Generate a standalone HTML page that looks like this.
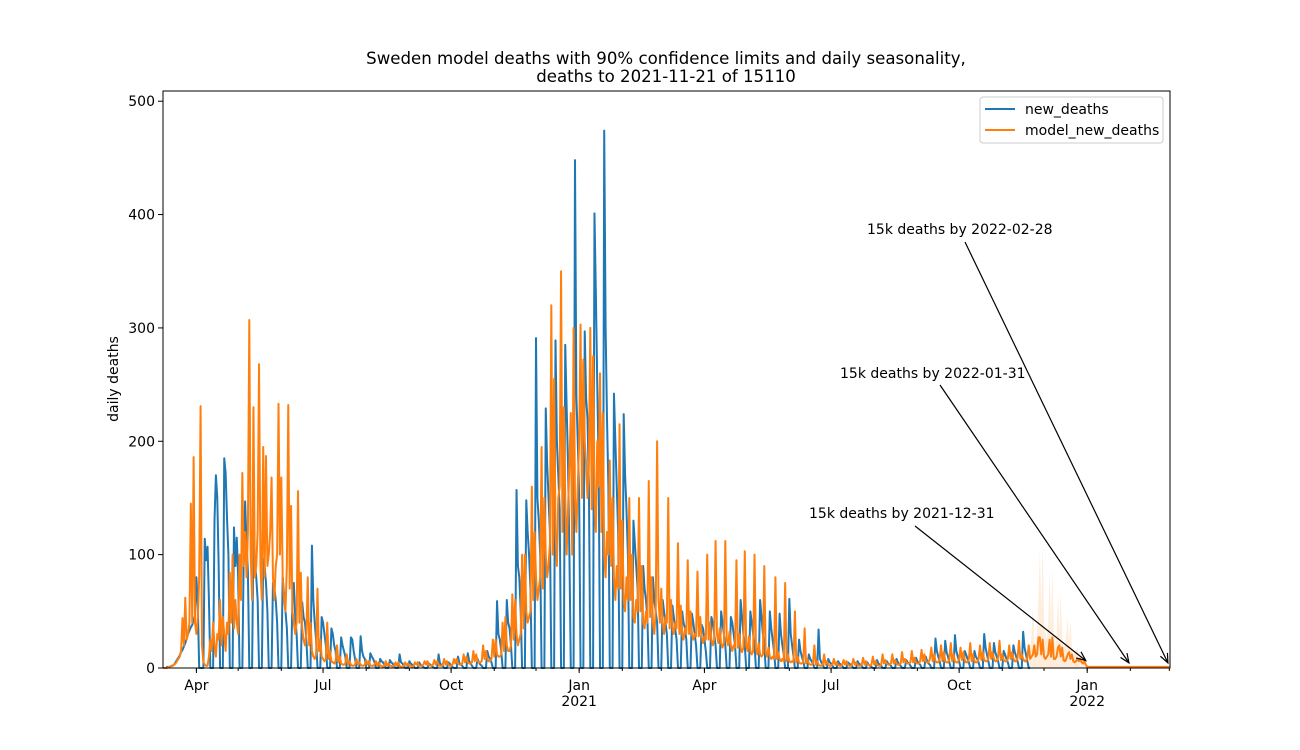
<!DOCTYPE html>
<html><head><meta charset="utf-8"><style>
body{margin:0;background:#fff}
svg{display:block;font-family:"DejaVu Sans","Liberation Sans",sans-serif}
</style></head><body>
<svg id="chart" width="1300" height="750" viewBox="0 0 1300 750">
<rect width="1300" height="750" fill="#fff"/>
<text x="666" y="64" text-anchor="middle" font-size="16.6">Sweden model deaths with 90% confidence limits and daily seasonality,</text>
<text x="666" y="82" text-anchor="middle" font-size="16.6">deaths to 2021-11-21 of 15110</text>
<text transform="translate(118,379) rotate(-90)" text-anchor="middle" font-size="14">daily deaths</text>
<g id="plot"></g>
</svg>
<script>
const yTicks = [0,100,200,300,400,500];
const majorTickDates = ["2020-04-01","2020-07-01","2020-10-01","2021-01-01","2021-04-01","2021-07-01","2021-10-01","2022-01-01"];
const majorTickLabels = ["Apr","Jul","Oct","Jan","Apr","Jul","Oct","Jan"];
const majorTickYears = ["","","","2021","","","","2022"];
const newDeaths = [
/*w0-3*/ 0,0,0,1,1,1,2, 2,3,5,7,9,11,14, 16,19,22,26,30,33,36, 38,42,46,80,55,0,0,
/*w4-7*/ 0,0,114,95,107,60,0, 0,0,130,170,150,90,0, 0,0,185,172,132,100,0, 0,0,124,90,115,80,0,
/*w8-11*/ 0,0,100,147,110,85,0, 0,0,120,95,80,60,0, 0,0,96,90,75,50,0, 0,0,75,70,60,40,0,
/*w12-15*/ 0,0,80,65,50,35,0, 0,0,60,75,45,30,0, 0,0,58,45,40,25,0, 0,0,108,60,40,25,0,
/*w16-19*/ 0,0,45,40,30,20,0, 0,0,35,30,20,15,0, 0,0,27,20,15,10,0, 0,0,27,25,15,8,0,
/*w20-23*/ 0,0,28,15,10,8,0, 0,0,13,10,8,5,0, 0,0,8,6,5,3,0, 0,0,7,5,4,2,0,
/*w24-27*/ 0,0,12,5,4,2,0, 0,0,6,4,3,2,0, 0,0,5,3,2,1,0, 0,0,4,3,2,1,0,
/*w28-31*/ 0,0,12,4,3,2,0, 0,0,5,4,2,1,0, 0,0,10,4,3,2,0, 0,0,13,6,4,2,0,
/*w32-35*/ 0,0,8,5,3,2,0, 0,0,15,10,8,5,0, 0,0,59,30,25,15,0, 0,0,60,40,35,20,0,
/*w36-39*/ 0,0,157,90,80,50,0, 0,0,148,120,100,70,0, 0,0,291,150,130,100,0, 0,0,229,180,150,120,0,
/*w40-43*/ 0,0,289,200,170,140,0, 0,0,285,230,180,100,0, 0,0,448,240,200,150,0, 0,0,297,238,220,160,0,
/*w44-47*/ 0,0,401,330,250,180,0, 0,0,474,300,220,160,0, 0,0,242,200,160,120,0, 0,0,224,170,140,100,0,
/*w48-51*/ 0,0,130,110,90,70,0, 0,0,90,70,60,45,0, 0,0,80,60,50,40,0, 0,0,60,50,40,30,0,
/*w52-55*/ 0,0,55,45,35,25,0, 0,0,50,40,35,25,0, 0,0,48,40,30,20,0, 0,0,38,35,25,15,0,
/*w56-59*/ 0,0,45,40,30,20,0, 0,0,50,40,30,20,0, 0,0,45,40,30,20,0, 0,0,60,45,30,20,0,
/*w60-63*/ 0,0,50,40,30,20,0, 0,0,60,45,30,20,0, 0,0,50,35,25,15,0, 0,0,48,30,20,12,0,
/*w64-67*/ 0,0,61,30,20,10,0, 0,0,25,15,10,6,0, 0,0,12,8,6,4,0, 0,0,34,8,5,3,0,
/*w68-71*/ 0,0,8,5,4,2,0, 0,0,6,4,3,2,0, 0,0,5,4,3,2,0, 0,0,6,4,3,2,0,
/*w72-75*/ 0,0,5,3,2,1,0, 0,0,7,4,3,2,0, 0,0,6,4,3,2,0, 0,0,8,5,3,2,0,
/*w76-79*/ 0,0,7,5,4,2,0, 0,0,9,6,4,3,0, 0,0,10,6,4,3,0, 0,0,26,15,10,6,0,
/*w80-83*/ 0,0,24,14,10,5,0, 0,0,29,15,10,6,0, 0,0,15,12,8,5,0, 0,0,15,10,8,5,0,
/*w84-87*/ 0,0,30,18,12,6,0, 0,0,22,14,10,6,0, 0,0,15,12,8,5,0, 0,0,20,14,10,6,0,
/*w88*/ 0,0,32,18,12,6,0,
0
];
const modelNewDeaths = [
/*w0-3*/ 0,0,0,0,1,1,2, 2,3,4,6,8,10,15, 44,20,62,25,30,40,145, 40,186,40,30,45,80,231,
/*w4-7*/ 20,5,3,2,2,10,25, 15,40,20,10,30,25,60, 20,45,30,15,40,30,84, 40,100,35,60,40,30,100,
/*w8-11*/ 60,172,90,120,80,120,307, 100,60,230,80,90,120,268, 90,60,195,80,187,90,100, 120,168,80,60,90,100,233,
/*w12-15*/ 100,168,80,60,50,90,232, 70,143,50,40,30,40,156, 40,84,35,25,20,30,80, 20,40,15,10,8,12,70,
/*w16-19*/ 15,25,10,8,6,8,40, 8,15,6,5,4,6,20, 5,10,4,3,3,4,12, 3,6,3,2,2,3,8,
/*w20-23*/ 3,5,3,2,2,3,7, 3,6,2,2,2,3,6, 2,5,2,2,1,2,6, 2,4,2,2,1,2,5,
/*w24-27*/ 2,5,2,1,1,2,5, 2,4,2,2,1,2,5, 3,5,2,2,2,3,6, 3,6,3,2,2,3,7,
/*w28-31*/ 3,6,3,2,2,3,8, 3,6,3,2,2,3,8, 4,8,4,3,3,4,12, 5,10,5,4,4,5,15,
/*w32-35*/ 6,12,6,5,5,6,20, 8,15,8,6,6,8,25, 10,25,12,10,10,12,40, 15,45,20,15,15,20,65,
/*w36-39*/ 25,60,30,20,25,30,100, 35,100,50,40,45,50,160, 60,120,80,60,70,80,195, 70,150,100,80,90,110,320,
/*w40-43*/ 100,255,120,90,150,160,350, 120,230,150,100,140,180,225, 100,300,150,120,160,200,303, 150,272,200,180,150,180,300,
/*w44-47*/ 140,275,150,120,200,160,260, 120,225,100,80,120,100,183, 90,150,80,60,90,70,215, 70,130,60,50,80,60,150,
/*w48-51*/ 60,100,45,40,60,50,150, 50,90,40,35,50,40,165, 45,80,40,30,50,200,60, 40,70,40,30,45,40,150,
/*w52-55*/ 35,60,35,30,40,35,110, 30,55,30,25,35,30,95, 30,50,30,25,30,28,85, 28,45,28,22,28,25,100,
/*w56-59*/ 25,40,25,20,25,112,30, 22,35,22,18,22,112,25, 20,32,20,15,20,18,95, 18,30,18,14,18,103,20,
/*w60-63*/ 15,28,15,12,15,100,18, 12,22,12,10,12,90,14, 10,18,10,8,10,8,80, 8,14,8,6,8,6,75,
/*w64-67*/ 6,12,6,5,6,5,50, 5,10,5,4,4,5,35, 4,8,4,3,3,4,20, 3,6,3,2,2,3,12,
/*w68-71*/ 3,6,3,2,2,3,8, 3,5,3,2,2,3,7, 3,6,3,2,2,3,8, 3,5,3,2,2,3,9,
/*w72-75*/ 3,6,3,3,2,3,10, 3,6,3,2,2,3,12, 4,7,4,3,3,4,12, 4,7,4,3,3,4,14,
/*w76-79*/ 5,8,5,4,4,5,15, 5,9,5,4,4,6,16, 6,12,6,5,5,8,18, 6,12,6,5,5,8,20,
/*w80-83*/ 6,14,6,5,5,8,22, 6,12,6,5,5,8,18, 7,14,7,5,5,8,22, 6,12,6,5,5,8,20,
/*w84-87*/ 7,14,7,6,6,8,22, 8,14,8,6,6,9,24, 7,12,7,6,6,8,20, 8,14,8,6,6,9,24,
/*w88-91*/ 8,12,8,6,6,9,20, 8,10,12,20,10,12,27, 27,12,25,10,8,10,12, 25,10,27,8,8,10,18,
/*w92-95*/ 20,10,18,7,6,8,12, 14,8,12,6,5,6,8, 6,8,5,4,6,3,1, 1,1,1,1,1,1,1,
/*w96-99*/ 1,1,1,1,1,1,1, 1,1,1,1,1,1,1, 1,1,1,1,1,1,1, 1,1,1,1,1,1,1,
/*w100-104*/ 1,1,1,1,1,1,1, 1,1,1,1,1,1,1, 1,1,1,1,1,1,1, 1,1,1,1,1,1,1, 1,1,1,1,1,1,1
];
const ciStartDay = 622;
const ciUpper = [12,15,30,54,25,20,30,60,106,50,111,40,30,25,40,87,35,89,30,20,25,66,30,66,25,18,20,30,45,20,42,15,12,12,15,19,10,10,8,8,6,4,2];
const annotationTexts = ["15k deaths by 2022-02-28","15k deaths by 2022-01-31","15k deaths by 2021-12-31"];
const annotationTargets = ["2022-02-28","2022-01-31","2021-12-31"];

const NS="http://www.w3.org/2000/svg";
const X0=163,X1=1170,YB=668,YT=91,DMAX=723.5,VMAX=509;
const xs=d=>X0+d*(X1-X0)/DMAX;
const ys=v=>YB-v*(YB-YT)/VMAX;
const t0=Date.UTC(2020,2,8);
const dayOf=s=>{const p=s.split("-").map(Number);return (Date.UTC(p[0],p[1]-1,p[2])-t0)/86400000;};
const plot=document.getElementById("plot");
function mk(tag,attrs,parent){const e=document.createElementNS(NS,tag);for(const k in attrs)e.setAttribute(k,attrs[k]);(parent||plot).appendChild(e);return e;}

let bp="M"+xs(ciStartDay)+","+ys(0);
ciUpper.forEach((v,k)=>{bp+=" L"+xs(ciStartDay+k).toFixed(2)+","+ys(v).toFixed(2);});
bp+=" L"+xs(ciStartDay+ciUpper.length-1)+","+ys(0)+"Z";
const band=mk("path",{d:bp,fill:"#ff7f0e","fill-opacity":"0.15",stroke:"none"});



function line(arr,color,name){
  const n=Math.min(arr.length,Math.floor(DMAX)+1);
  let d="";for(let i=0;i<n;i++)d+=(i?" L":"M")+xs(i).toFixed(2)+","+ys(arr[i]).toFixed(2);
  const p=mk("path",{d:d,fill:"none",stroke:color,"stroke-width":"2","stroke-linejoin":"round"});
  
  
}
line(newDeaths,"#1f77b4","new-deaths-line");
line(modelNewDeaths,"#ff7f0e","model-new-deaths-line");

const fr=mk("rect",{x:X0,y:YT,width:X1-X0,height:YB-YT,fill:"none",stroke:"#000","stroke-width":"1"});



yTicks.forEach(v=>{
  const t=mk("line",{x1:X0-5,x2:X0,y1:ys(v),y2:ys(v),stroke:"#000"});
  
  
  const l=mk("text",{x:X0-8,y:ys(v)+5,"text-anchor":"end","font-size":"14"});
  l.textContent=v;
  
  
});
for(let y=2020;y<=2022;y++)for(let m=0;m<12;m++){
  const d=(Date.UTC(y,m,1)-t0)/86400000;
  if(d<0||d>DMAX)continue;
  const t=mk("line",{x1:xs(d),x2:xs(d),y1:YB,y2:YB+3,stroke:"#000"});
  
  
}
majorTickDates.forEach((s,k)=>{
  const x=xs(dayOf(s));
  const t=mk("line",{x1:x,x2:x,y1:YB,y2:YB+5,stroke:"#000"});
  
  
  const l=mk("text",{x:x,y:YB+22,"text-anchor":"middle","font-size":"14"});
  l.textContent=majorTickLabels[k];
  
  
  if(majorTickYears[k]){
    const yl=mk("text",{x:x,y:YB+38,"text-anchor":"middle","font-size":"14"});
    yl.textContent=majorTickYears[k];
    
    
  }
});

const annTextPos=[[867,234,965,242],[840,378,940,385],[809,518,915,526]];
annotationTexts.forEach((s,k)=>{
  const tp=annTextPos[k];
  const tx=mk("text",{x:tp[0],y:tp[1],"font-size":"14"});
  tx.textContent=s;
  
  
  const di=Math.round(dayOf(annotationTargets[k]));
  const v=modelNewDeaths[di]!==undefined?modelNewDeaths[di]:1;
  const ex=xs(dayOf(annotationTargets[k])), ey=ys(v)-4;
  const ln=mk("line",{x1:tp[2],y1:tp[3],x2:ex,y2:ey,stroke:"#000","stroke-width":"1.2"});
  
  
  const a=Math.atan2(ey-tp[3],ex-tp[2]),L=10,w=0.4;
  const hp="M"+(ex-L*Math.cos(a-w))+","+(ey-L*Math.sin(a-w))+" L"+ex+","+ey+" L"+(ex-L*Math.cos(a+w))+","+(ey-L*Math.sin(a+w));
  const h=mk("path",{d:hp,fill:"none",stroke:"#000","stroke-width":"1.2"});
  
  
});

const lg=mk("g",{});


mk("rect",{x:980,y:97,width:183,height:46,rx:3,fill:"#fff","fill-opacity":"0.8",stroke:"#ccc"},lg);
[["new_deaths","#1f77b4",109],["model_new_deaths","#ff7f0e",130]].forEach(e=>{
  const ll=mk("line",{x1:985,x2:1015,y1:e[2],y2:e[2],stroke:e[1],"stroke-width":"2"},lg);
  
  
  const lt=mk("text",{x:1025,y:e[2]+5,"font-size":"14"},lg);
  lt.textContent=e[0];
  
  
});
</script>
</body></html>
